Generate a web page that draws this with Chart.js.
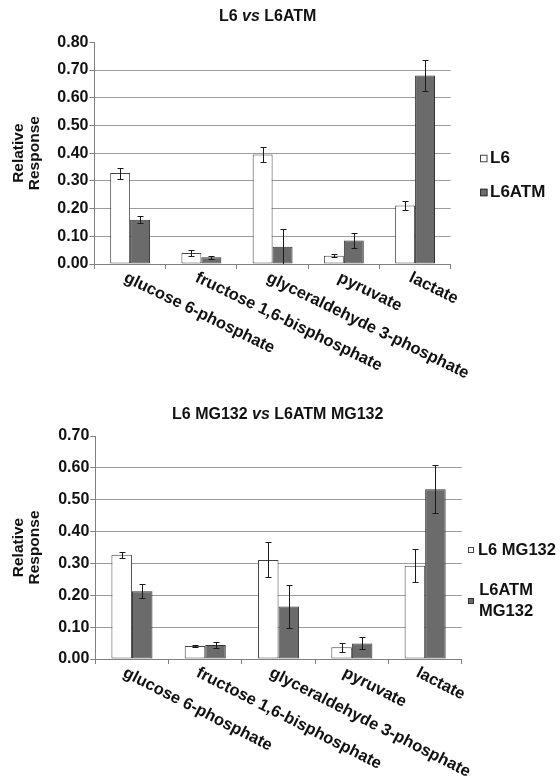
<!DOCTYPE html>
<html>
<head>
<meta charset="utf-8">
<script src="https://cdn.jsdelivr.net/npm/chart.js@4.4.1/dist/chart.umd.min.js"></script>
<style>
  html, body { margin: 0; padding: 0; background: #fff; }
  canvas { display: block; }
</style>
</head>
<body>
<canvas id="top-chart" width="560" height="390"></canvas>
<canvas id="bottom-chart" width="560" height="388"></canvas>
<script>
const metabolites = ["glucose 6-phosphate", "fructose 1,6-bisphosphate", "glyceraldehyde 3-phosphate", "pyruvate", "lactate"];

// L6 vs L6ATM
const l6Values = [0.328, 0.040, 0.395, 0.030, 0.211];
const l6Errors = [0.020, 0.012, 0.027, 0.005, 0.015];
const l6atmValues = [0.160, 0.024, 0.062, 0.085, 0.680];
const l6atmErrors = [0.012, 0.006, 0.063, 0.027, 0.055];
const topTickLabels = ["0.00", "0.10", "0.20", "0.30", "0.40", "0.50", "0.60", "0.70", "0.80"];

// L6 MG132 vs L6ATM MG132
const l6mgValues = [0.327, 0.041, 0.311, 0.037, 0.293];
const l6mgErrors = [0.010, 0.004, 0.055, 0.014, 0.052];
const l6atmMgValues = [0.213, 0.044, 0.165, 0.049, 0.533];
const l6atmMgErrors = [0.022, 0.010, 0.067, 0.019, 0.075];
const bottomTickLabels = ["0.00", "0.10", "0.20", "0.30", "0.40", "0.50", "0.60", "0.70"];

const FONT = '"Liberation Sans", Arial, sans-serif';
const TEXT = '#111111';

// barras de erro desenhadas sobre as barras, pela escala y do próprio gráfico
const errorBars = {
    id: 'errorBars',
    afterDatasetsDraw(chart) {
        const { ctx, chartArea } = chart;
        const yScale = chart.scales.y;
        ctx.save();
        ctx.beginPath();
        ctx.rect(chartArea.left, 0, chartArea.width, chartArea.bottom);
        ctx.clip();
        ctx.strokeStyle = '#1a1a1a';
        ctx.lineWidth = 1;
        chart.data.datasets.forEach((ds, i) => {
            chart.getDatasetMeta(i).data.forEach((bar, j) => {
                const v = ds.data[j], e = ds.errors[j];
                const hi = Math.round(yScale.getPixelForValue(v + e)) + 0.5;
                const lo = Math.round(yScale.getPixelForValue(v - e)) + 0.5;
                const x = Math.round(bar.x) + 0.5;
                ctx.beginPath();
                ctx.moveTo(x, hi); ctx.lineTo(x, lo);
                ctx.moveTo(x - 3, hi); ctx.lineTo(x + 3, hi);
                ctx.moveTo(x - 3, lo); ctx.lineTo(x + 3, lo);
                ctx.stroke();
            });
        });
        ctx.restore();
    }
};

// título com "vs" em itálico, rótulos inclinados do eixo x e legenda à direita
const decor = {
    id: 'decor',
    afterDraw(chart, args, opts) {
        const { ctx } = chart;
        const bold = `bold 16px ${FONT}`;
        const boldItalic = `italic bold 16px ${FONT}`;
        ctx.save();
        ctx.fillStyle = TEXT;

        // título
        let total = 0;
        opts.title.forEach(seg => {
            ctx.font = seg.italic ? boldItalic : bold;
            total += ctx.measureText(seg.text).width;
        });
        let tx = opts.titleX - total / 2;
        ctx.textBaseline = 'middle';
        ctx.textAlign = 'left';
        opts.title.forEach(seg => {
            ctx.font = seg.italic ? boldItalic : bold;
            ctx.fillText(seg.text, tx, opts.titleY);
            tx += ctx.measureText(seg.text).width;
        });

        // rótulos das categorias
        const xScale = chart.scales.x;
        ctx.font = `bold 16.5px ${FONT}`;
        ctx.textBaseline = 'alphabetic';
        chart.data.labels.forEach((label, i) => {
            ctx.save();
            ctx.translate(xScale.getPixelForValue(i) + opts.labelDx, xScale.top + opts.labelDy);
            ctx.rotate(opts.labelAngle * Math.PI / 180);
            ctx.fillText(label, 0, 0);
            ctx.restore();
        });

        // legenda
        chart.data.datasets.forEach((ds, i) => {
            const rowY = opts.legendRows[i];
            const s = opts.boxSize;
            ctx.fillStyle = ds.backgroundColor;
            ctx.fillRect(opts.boxX, rowY - s / 2, s, s);
            ctx.strokeStyle = ds.borderColor;
            ctx.lineWidth = 1;
            ctx.strokeRect(opts.boxX + 0.5, rowY - s / 2 + 0.5, s - 1, s - 1);
            ctx.fillStyle = TEXT;
            ctx.font = `bold ${opts.legendFont}px ${FONT}`;
            ctx.textBaseline = 'middle';
            const lines = Array.isArray(ds.label) ? ds.label : [ds.label];
            if (lines.length === 1) {
                ctx.textAlign = 'left';
                ctx.fillText(lines[0], opts.textX, rowY);
            } else {
                const w = Math.max(...lines.map(l => ctx.measureText(l).width));
                ctx.textAlign = 'center';
                lines.forEach((l, k) => {
                    ctx.fillText(l, opts.textX + w / 2 + 1, rowY + (k - (lines.length - 1) / 2) * opts.lineGap);
                });
            }
        });
        ctx.restore();
    }
};

function makeChart(canvasId, cfg) {
    const yMax = cfg.tickLabels.length - 1;
    return new Chart(document.getElementById(canvasId), {
        type: 'bar',
        data: {
            labels: metabolites,
            datasets: [{
                label: cfg.labels[0],
                data: cfg.values[0],
                errors: cfg.errors[0],
                backgroundColor: '#ffffff',
                borderColor: '#444444',
                borderWidth: 1,
                borderSkipped: false,
            }, {
                label: cfg.labels[1],
                data: cfg.values[1],
                errors: cfg.errors[1],
                backgroundColor: '#6b6b6b',
                borderColor: '#333333',
                borderWidth: 1,
                borderSkipped: false,
            }],
        },
        options: {
            responsive: false,
            animation: false,
            devicePixelRatio: 1,
            categoryPercentage: 0.56,
            barPercentage: 1.0,
            layout: { padding: cfg.padding },
            scales: {
                x: {
                    ticks: { display: false },
                    grid: { display: true, drawOnChartArea: false, drawTicks: true, tickLength: 5, tickColor: '#808080', offset: true },
                    border: { color: '#808080' },
                    afterFit: (s) => { s.height = cfg.xHeight; },
                },
                y: {
                    min: 0,
                    max: yMax / 10,
                    ticks: {
                        stepSize: 0.1,
                        padding: 1,
                        color: TEXT,
                        font: { family: FONT, size: 16, weight: 'bold' },
                        callback: (v, i) => cfg.tickLabels[i],
                    },
                    grid: {
                        color: (c) => (c.tick && c.tick.value > yMax / 10 - 1e-6) ? 'rgba(0,0,0,0)' : '#9c9c9c',
                        tickColor: '#808080',
                        tickLength: 5,
                    },
                    border: { color: '#808080' },
                    title: {
                        display: true,
                        text: ['Relative', 'Response'],
                        color: TEXT,
                        font: { family: FONT, size: 15.5, weight: 'bold', lineHeight: 1.08 },
                        padding: { top: 10, bottom: 0 },
                    },
                    afterFit: (s) => { s.width = cfg.yWidth; },
                },
            },
            plugins: {
                legend: { display: false },
                tooltip: { enabled: false },
                decor: cfg.decor,
            },
        },
        plugins: [errorBars, decor],
    });
}

makeChart('top-chart', {
    labels: ['L6', 'L6ATM'],
    values: [l6Values, l6atmValues],
    errors: [l6Errors, l6atmErrors],
    tickLabels: topTickLabels,
    padding: { top: 42.3, right: 109.3, left: 0, bottom: 0 },
    yWidth: 94.5,
    xHeight: 126,
    decor: {
        title: [{ text: 'L6 ' }, { text: 'vs', italic: true }, { text: ' L6ATM' }],
        titleX: 267.7, titleY: 17,
        labelDx: -7, labelDy: 17, labelAngle: 26,
        boxX: 480, boxSize: 7.5, textX: 490, legendFont: 17,
        legendRows: [158.5, 192.5], lineGap: 20,
    },
});

makeChart('bottom-chart', {
    labels: ['L6 MG132', ['L6ATM', 'MG132']],
    values: [l6mgValues, l6atmMgValues],
    errors: [l6mgErrors, l6atmMgErrors],
    tickLabels: bottomTickLabels,
    padding: { top: 46, right: 98.2, left: 0, bottom: 0 },
    yWidth: 95.3,
    xHeight: 119,
    decor: {
        title: [{ text: 'L6 MG132 ' }, { text: 'vs', italic: true }, { text: ' L6ATM MG132' }],
        titleX: 277.7, titleY: 25,
        labelDx: -10, labelDy: 17, labelAngle: 27,
        boxX: 468, boxSize: 6, textX: 478, legendFont: 16.5,
        legendRows: [160, 211], lineGap: 20.5,
    },
});
</script>
</body>
</html>
